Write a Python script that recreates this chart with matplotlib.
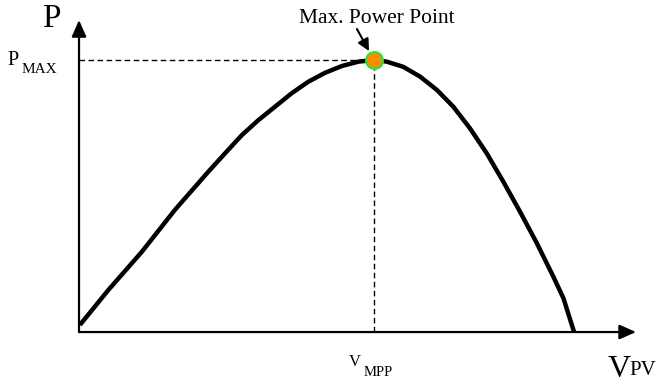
import matplotlib.pyplot as plt

# P-V curve of a PV panel, normalised so V_MPP = 1 and P_MAX = 1
v_pv = [0.003, 0.099, 0.213, 0.325, 0.438, 0.495, 0.552, 0.608, 0.664, 0.721,
        0.777, 0.834, 0.891, 0.947, 1.0,
        1.043, 1.099, 1.156, 1.213, 1.269, 1.325, 1.382, 1.438, 1.495, 1.552,
        1.608, 1.642, 1.678]
p_pv = [0.026, 0.154, 0.295, 0.449, 0.589, 0.657, 0.724, 0.779, 0.828, 0.878,
        0.920, 0.953, 0.978, 0.994, 1.0,
        0.994, 0.975, 0.939, 0.890, 0.828, 0.749, 0.657, 0.553, 0.442, 0.326,
        0.203, 0.124, 0.0]

v_mpp = 1.0
p_max = 1.0

serif = 'Liberation Serif'

fig = plt.figure(figsize=(6.62, 3.84), dpi=100)
ax = fig.add_axes([0, 0, 1, 1])
ax.set_xlim(-0.2678, 1.976)
ax.set_ylim(-0.191, 1.2206)
ax.axis('off')

# axes with arrow heads
arrow = dict(arrowstyle='-|>,head_length=0.5,head_width=0.22', lw=1.6,
             color='black', mutation_scale=20, shrinkA=0, shrinkB=0)
ax.annotate('', xy=(0, 1.147), xytext=(0, 0), arrowprops=arrow)
ax.annotate('', xy=(1.888, 0), xytext=(0, 0), arrowprops=arrow)

# dashed guides to the max power point
ax.plot([0, v_mpp], [p_max, p_max], ls=(0, (4, 2.5)), color='black', lw=1)
ax.plot([v_mpp, v_mpp], [0, p_max], ls=(0, (4, 2.5)), color='black', lw=1)

# the curve
ax.plot(v_pv, p_pv, color='black', lw=3.2, solid_joinstyle='round',
        solid_capstyle='butt')

# max power point marker
ax.plot([v_mpp], [p_max], 'o', ms=12, mfc='#FF8C00', mec='#33DD33', mew=1.6)

ax.annotate('', xy=(0.983, 1.033), xytext=(0.942, 1.114),
            arrowprops=dict(arrowstyle='-|>,head_length=0.5,head_width=0.25',
                            lw=1.5, color='black', mutation_scale=14,
                            shrinkA=0, shrinkB=0))
ax.text(1.01, 1.136, 'Max. Power Point', family=serif, fontsize=15.5,
        ha='center', va='baseline')

# labels
ax.text(-0.125, 1.121, 'P', family=serif, fontsize=24, ha='left', va='baseline')
ax.text(-0.241, 0.982, 'P', family=serif, fontsize=14.5, ha='left', va='baseline')
ax.text(-0.194, 0.952, 'MAX', family=serif, fontsize=11, ha='left', va='baseline')
ax.text(0.915, -0.125, 'V', family=serif, fontsize=12, ha='left', va='baseline')
ax.text(0.963, -0.162, 'MPP', family=serif, fontsize=10.5, ha='left', va='baseline')
ax.text(1.793, -0.165, 'V', family=serif, fontsize=23, ha='left', va='baseline')
ax.text(1.865, -0.158, 'PV', family=serif, fontsize=15, ha='left', va='baseline')

fig.savefig('out.png', dpi=100)
